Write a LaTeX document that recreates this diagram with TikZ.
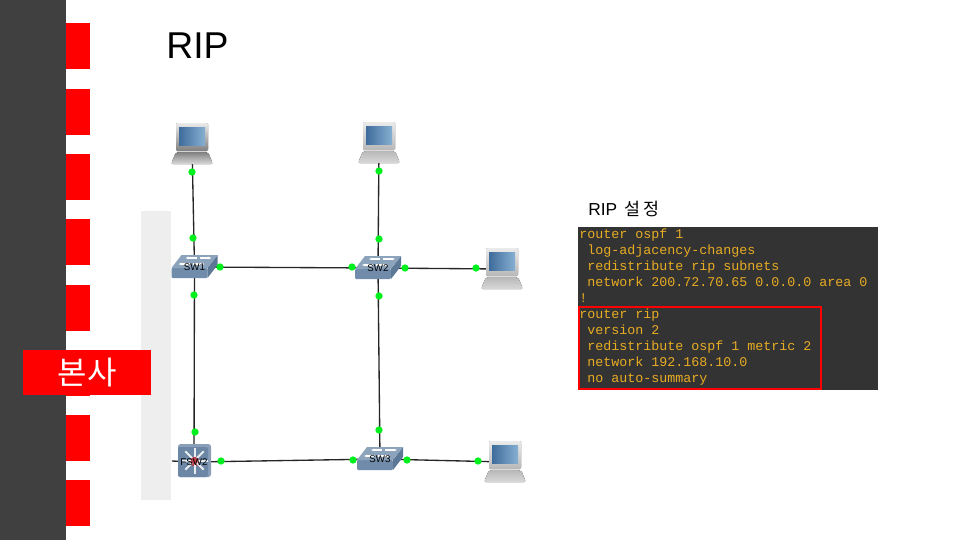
\documentclass[tikz,border=0pt]{standalone}
\usepackage{fontspec}
\setmainfont{Liberation Sans}
\setmonofont{Liberation Mono}
\newfontfamily\cjk{Noto Sans CJK KR}
\usetikzlibrary{arrows.meta,backgrounds}
\definecolor{barc}{RGB}{64,64,64}
\definecolor{tabc}{RGB}{255,0,0}
\definecolor{bandc}{RGB}{238,238,238}
\definecolor{panelc}{RGB}{51,51,51}
\definecolor{codec}{RGB}{232,172,36}
\definecolor{portc}{RGB}{0,240,30}
\definecolor{swtop}{RGB}{140,163,188}
\definecolor{swfront}{RGB}{112,140,170}
\definecolor{swside}{RGB}{92,120,150}
\definecolor{fswc}{RGB}{108,135,165}
\definecolor{scrd}{RGB}{62,108,155}
\definecolor{scrl}{RGB}{135,175,210}
\tikzset{wire/.style={line width=1pt,black!85},
 port/.style={circle,fill=portc,inner sep=0pt,minimum size=5.5pt},
 lbl/.style={inner sep=0pt,font=\fontsize{7.3}{8}\selectfont},
 pcspot/.style={inner sep=0pt,minimum size=12pt},
 hq/.style={fill=tabc,text=white,inner sep=0pt,minimum width=96pt,minimum height=34pt,font=\cjk\fontsize{24}{26}\selectfont},
 code/.style={inner sep=0pt,anchor=north west,align=left,text=codec,font=\fontsize{10}{12}\ttfamily}}
% laptop: x, y, name, shade of the case
\newcommand\pcicon[4]{%
 \begin{scope}[shift={(#1,#2)}]
 \fill[top color=black!#4,bottom color=black!15,rounded corners=1.5pt] (-16,8)--(16,8)--(21,20)--(-21,20)--cycle;
 \fill[top color=black!8,bottom color=black!#4,rounded corners=1pt] (-16,-21)rectangle(16,7);
 \fill[left color=scrd,right color=scrl] (-13,-17)rectangle(13,1);
 \end{scope}
 \node[pcspot] (#3) at (#1,#2) {};}
% switch: x, y, name, text
\newcommand\swicon[4]{%
 \begin{scope}[shift={(#1,#2)}]
 \fill[swfront,rounded corners=.8pt] (-23,1)--(13,1)--(13,11)--(-23,11)--cycle;
 \fill[swside] (13,1)--(23,-12)--(23,-2)--(13,11)--cycle;
 \fill[swtop] (-13,-12)--(23,-12)--(13,1)--(-23,1)--cycle;
 \draw[white,line width=.8pt,{Stealth[length=2.5pt]}-] (-9,-9)--(2,-9);
 \draw[white,line width=.8pt,-{Stealth[length=2.5pt]}] (5,-9)--(17,-9);
 \draw[white,line width=.8pt,{Stealth[length=2.5pt]}-] (-16,-3)--(-5,-3);
 \draw[white,line width=.8pt,-{Stealth[length=2.5pt]}] (-2,-3)--(10,-3);
 \end{scope}
 \node[lbl] (#3) at (#1,#2) {#4};}
\begin{document}
\begin{tikzpicture}[x=.75pt,y=-.75pt]
\useasboundingbox (0,0) rectangle (960,540);
\begin{scope}[on background layer]
\fill[white] (0,0) rectangle (960,540);
\fill[bandc] (141,211) rectangle (171,500);
\end{scope}
\fill[barc] (0,0) rectangle (66,540);
\foreach \y in {23,89,154,219,285,350,415,480}
 \fill[tabc] (66,\y) rectangle (90,\y+45.5);
\node[hq] (hq) at (87,372.5) {본사};
\node[font=\fontsize{28}{30}\selectfont,inner sep=0pt] (title) at (197.5,46) {RIP};
% devices
\pcicon{192}{144}{pc1}{50}
\pcicon{379}{143}{pc2}{28}
\pcicon{502}{269}{pc3}{28}
\pcicon{505}{462}{pc4}{28}
\swicon{194.5}{267}{sw1}{SW1}
\swicon{378}{268}{sw2}{SW2}
\swicon{380}{459}{sw3}{SW3}
\begin{scope}[shift={(194.5,460.5)}]
 \fill[fswc!80!white,rounded corners=2pt] (-16.5,-16.5) rectangle (16.5,16.5);
 \fill[fswc,rounded corners=1.5pt] (-16.5,-13.5) rectangle (13.5,16.5);
 \fill[red!55!fswc] (0,1) circle (5);
 \foreach \a in {0,45,...,315}
  \draw[white!85!fswc,line width=1.5pt] (\a:3.5) -- (\a:13);
\end{scope}
\node[lbl] (fsw) at (194,462) {FSW2};
\coordinate (stub) at (172,461);
% links
\begin{scope}[on background layer]
\draw[wire] (pc1)--(sw1);
\draw[wire] (pc2)--(sw2);
\draw[wire] (sw1)--(sw2);
\draw[wire] (sw2)--(pc3);
\draw[wire] (sw1)--(fsw);
\draw[wire] (sw2)--(sw3);
\draw[wire] (stub)--(fsw)--(sw3);
\draw[wire] (sw3)--(pc4);
\end{scope}
\foreach \n/\x/\y in {p1/192/172,p2/193/238,p3/194/295,p4/195/432,
 p5/220/267,p6/352/267,p7/379/171,p8/379/239,p9/405/268,p10/476/268,
 p11/379/296,p12/379/430,p13/221/461,p14/353/460,p15/407/460,p16/478/461}
 \node[port] (\n) at (\x,\y) {};
% config
\node[inner sep=0pt,anchor=base west,font=\fontsize{13}{15}\selectfont] (cap) at (588,215) {RIP\hspace{5.5pt}{\cjk 설\hspace{2.5pt}정}};
\node[fill=panelc,minimum width=225pt,minimum height=122.25pt,inner sep=0pt,anchor=north west] (panel) at (578,227) {};
\node[code] (cfg) at (579,228.5) {router ospf 1\\
~log-adjacency-changes\\
~redistribute rip subnets\\
~network 200.72.70.65 0.0.0.0 area 0\\
!\\
router rip\\
~version 2\\
~redistribute ospf 1 metric 2\\
~network 192.168.10.0\\
~no auto-summary};
\node[draw=tabc,line width=1.2pt,minimum width=181.5pt,minimum height=61.5pt,inner sep=0pt,anchor=north west] (ripbox) at (578,306) {};
\end{tikzpicture}
\end{document}
